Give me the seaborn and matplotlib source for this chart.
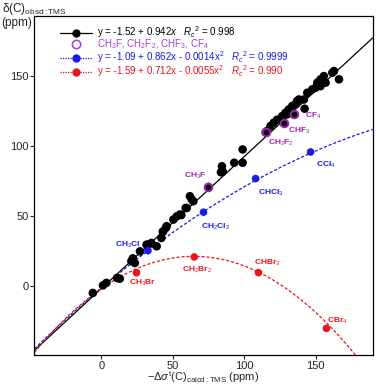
import numpy as np
import pandas as pd
import seaborn as sns
import matplotlib.pyplot as plt
from matplotlib.lines import Line2D

# black points (all fitted compounds)
bx = [-6, 1.1, 3.5, 11, 12.9, 21, 22, 23.4, 27, 31.6, 32.8, 35, 38.7, 42, 43, 43.3,
      45.2, 45.7, 50.4, 52.7, 55, 56, 59, 59.8, 62, 63.3, 64.4, 75, 83.7, 84.4, 85,
      93, 98.9, 98.9, 115, 116, 118.4, 120.7, 123, 126.6, 127.7, 128.9, 130, 131.2,
      133.6, 134.7, 136, 137, 138.3, 141.8, 142.3, 144.2, 147.7, 150, 151.2, 153.5,
      153.5, 155.8, 157, 161.7, 162.9, 166.4]
by = [-4.7, 0.7, 2.5, 6, 5.5, 18, 20, 16.7, 25, 29.8, 29.8, 31, 28.6, 34.6, 39, 39.3,
      41.8, 43, 47.7, 50, 51.3, 51, 56, 56, 64.4, 62, 60.8, 71, 81.5, 85.8, 82,
      88.3, 97.8, 88.3, 110, 111, 114.5, 116.9, 119, 121.6, 116.9, 124, 122.8, 126.4,
      128.8, 122.8, 130, 132.3, 133.5, 133.5, 126.9, 138.3, 140.7, 141.9, 145.5, 147.9,
      143, 150.2, 145.5, 152.6, 153.8, 147.9]

# fluoromethanes
f_names = ['CH$_3$F', 'CH$_2$F$_2$', 'CHF$_3$', 'CF$_4$']
fx = [75, 115, 127.7, 134.7]
fy = [71, 110, 116.9, 122.8]
f_lab = [(65.6, 78.7), (125.5, 102.6), (138.3, 110.9), (148.1, 121.6)]

# chloromethanes
cl_names = ['CH$_3$Cl', 'CH$_2$Cl$_2$', 'CHCl$_3$', 'CCl$_4$']
clx = [32.6, 71.5, 108, 146.5]
cly = [25.5, 53, 77, 96]
cl_lab = [(18.7, 29.3), (79.7, 42.5), (118.8, 66.8), (157.5, 87)]

# bromomethanes
br_names = ['CH$_3$Br', 'CH$_2$Br$_2$', 'CHBr$_3$', 'CBr$_4$']
brx = [24.6, 65, 110, 157.6]
bry = [9.8, 21, 9.8, -30]
br_lab = [(28.6, 2.4), (66.8, 12), (116, 16.7), (165.3, -25)]

# fit coefficients (constant, linear, quadratic) as given in legend
fit_black = [-1.52, 0.942, 0]
fit_blue = [-1.09, 0.862, -0.0014]
fit_red = [-1.59, 0.712, -0.0055]

BLUE = '#1a1ae6'
RED = '#e8141e'
PURPLE = '#a020b0'
PURPLE_L = '#a63ad6'

sns.set_theme(style='ticks')
plt.rcParams['font.family'] = ['Liberation Sans', 'DejaVu Sans']
plt.rcParams['mathtext.fontset'] = 'custom'
plt.rcParams['mathtext.rm'] = 'Liberation Sans'
plt.rcParams['mathtext.it'] = 'Liberation Sans:italic'
plt.rcParams['mathtext.bf'] = 'Liberation Sans:bold'

fig = plt.figure(figsize=(3.76, 3.85), dpi=100)
ax = fig.add_axes([0.0912, 0.078, 0.9, 0.88])

xlim = (-47, 190)
ylim = (-49, 193)
xs = np.linspace(xlim[0], xlim[1], 300)


def curve(c):
    return c[0] + c[1] * xs + c[2] * xs ** 2


lines = pd.DataFrame({'x': xs, 'black': curve(fit_black),
                      'blue': curve(fit_blue), 'red': curve(fit_red)})

sns.lineplot(data=lines, x='x', y='black', color='black', lw=0.9, ax=ax)
sns.lineplot(data=lines, x='x', y='blue', color=BLUE, lw=0.9, ax=ax,
             dashes=False, linestyle=(0, (2.5, 1.5)))
sns.lineplot(data=lines[lines.red > ylim[0] - 5], x='x', y='red', color=RED,
             lw=0.9, ax=ax, linestyle=(0, (2.5, 1.5)))

pts = pd.DataFrame({'x': bx, 'y': by})
sns.scatterplot(data=pts, x='x', y='y', color='black', s=38, edgecolor='none', ax=ax, zorder=3)
ax.scatter(fx, fy, s=30, facecolor='black', edgecolor=PURPLE, lw=1.4, zorder=4)
ax.scatter(clx, cly, s=30, color=BLUE, edgecolor='none', zorder=4)
ax.scatter(brx, bry, s=30, color=RED, edgecolor='none', zorder=4)

for names, labs, col in [(f_names, f_lab, PURPLE), (cl_names, cl_lab, BLUE),
                         (br_names, br_lab, RED)]:
    for n, (lx, ly) in zip(names, labs):
        ax.text(lx, ly, n, color=col, fontsize=6, fontweight='bold',
                ha='center', va='center')

ax.set_xlim(xlim)
ax.set_ylim(ylim)
ax.set_xticks([0, 50, 100, 150])
ax.set_yticks([0, 50, 100, 150])
ax.tick_params(labelsize=8, direction='out', length=3, width=0.8, pad=1)
for sp in ax.spines.values():
    sp.set_linewidth(0.9)
    sp.set_color('black')
ax.set_xlabel(r'$-\Delta\sigma^{\rm t}$(C)$_{\rm calcd:TMS}$ (ppm)', fontsize=8, labelpad=-1)
ax.set_ylabel('')

fig.text(0.004, 0.997, 'δ(C)$_{\\rm obsd:TMS}$\n(ppm)', fontsize=8.5,
         ha='left', va='top', linespacing=1.0)

handles = [
    Line2D([], [], color='black', lw=0.9, marker='o', ms=6, mec='none'),
    Line2D([], [], color='none', marker='o', ms=6, mfc='none', mec=PURPLE_L, mew=1.1),
    Line2D([], [], color=BLUE, lw=0.9, ls=(0, (1, 1)), marker='o', ms=6, mec='none'),
    Line2D([], [], color=RED, lw=0.9, ls=(0, (1, 1)), marker='o', ms=6, mec='none'),
]
labels = [
    r'y = -1.52 + 0.942$x$   $R_c$$^2$ = 0.998',
    'CH$_3$F, CH$_2$F$_2$, CHF$_3$, CF$_4$',
    r'y = -1.09 + 0.862x - 0.0014x$^2$   $R_c$$^2$ = 0.9999',
    r'y = -1.59 + 0.712x - 0.0055x$^2$   $R_c$$^2$ = 0.990',
]
leg = ax.legend(handles, labels, loc='upper left', bbox_to_anchor=(0.055, 0.997),
                frameon=False, fontsize=7, handlelength=3.3, handletextpad=0.5,
                labelspacing=-0.2, borderpad=0.2, handleheight=0.6)
for t, c in zip(leg.get_texts(), ['black', PURPLE_L, BLUE, RED]):
    t.set_color(c)

fig.savefig('out.png', dpi=100)
